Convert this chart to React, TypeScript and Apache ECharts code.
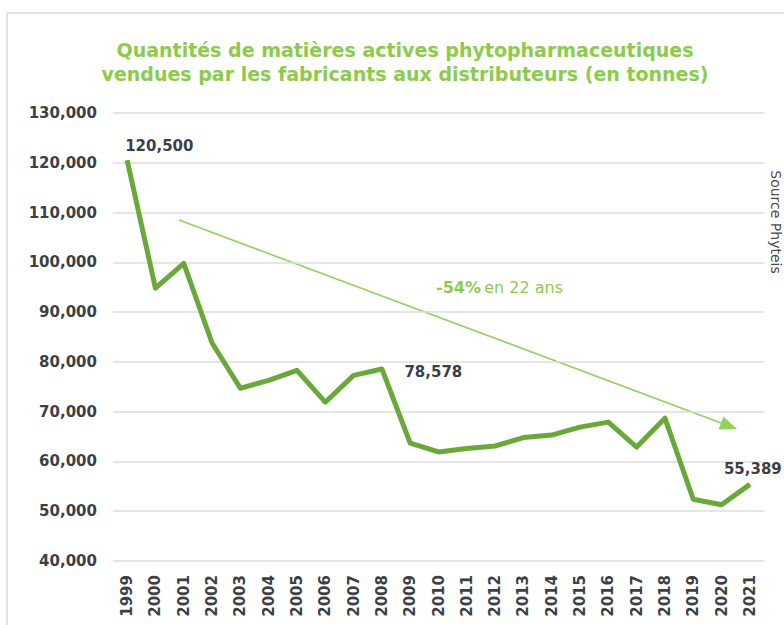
import React, { useEffect, useRef } from "react";
import * as echarts from "echarts";

const years = ["1999","2000","2001","2002","2003","2004","2005","2006","2007","2008","2009","2010","2011","2012","2013","2014","2015","2016","2017","2018","2019","2020","2021"];
const tonnes = [120500, 94800, 99800, 83800, 74700, 76300, 78300, 71900, 77300, 78578, 63700, 61900, 62600, 63100, 64800, 65300, 66900, 67900, 62900, 68700, 52400, 51300, 55389];
const labelledYears = ["1999", "2008", "2021"];
const titleLines = ["Quantités de matières actives phytopharmaceutiques", "vendues par les fabricants aux distributeurs (en tonnes)"];
const yMin = 40000;
const yMax = 130000;
const yStep = 10000;

const FONT = "DejaVu Sans";
const GREEN_TITLE = "#8ccb4c";
const GREEN_LINE = "#68a93a";
const GREEN_ARROW = "#8fd35a";
const TEXT_DARK = "#3c3f46";

const fmt = (v: number) => v.toLocaleString("en-US");

export default function App() {
  const ref = useRef<HTMLDivElement>(null);
  useEffect(() => {
    if (!ref.current) return;
    const chart = echarts.init(ref.current, null, { renderer: "svg" });
    const labelCfg: Record<string, any> = {
      "1999": { position: "top", align: "left", offset: [-2, 0], distance: 6 },
      "2008": { position: "right", distance: 22, offset: [0, 3] },
      "2021": { position: "top", align: "center", offset: [3, 0], distance: 7 },
    };
    const data = tonnes.map((v, i) => {
      const y = years[i];
      if (labelledYears.includes(y)) {
        return {
          value: v,
          label: {
            show: true,
            formatter: (p: any) => fmt(p.value),
            color: TEXT_DARK,
            fontFamily: FONT,
            fontWeight: "bold",
            fontSize: 15,
            ...labelCfg[y],
          },
        };
      }
      return v;
    });
    // arrow geometry
    const ax1 = 179, ay1 = 220, ax2 = 737, ay2 = 429;
    const dx = ax2 - ax1, dy = ay2 - ay1;
    const len = Math.sqrt(dx * dx + dy * dy);
    const ux = dx / len, uy = dy / len;
    const nx = -uy, ny = ux;
    const hl = 17, hw = 7;
    const bx = ax2 - hl * ux, by = ay2 - hl * uy;
    chart.setOption({
      animation: false,
      backgroundColor: "#ffffff",
      title: {
        text: titleLines.join("\n"),
        left: 400,
        textAlign: "center",
        top: 33,
        textStyle: {
          color: GREEN_TITLE,
          fontFamily: FONT,
          fontWeight: "bold",
          fontSize: 19,
          lineHeight: 24,
        },
      },
      grid: { left: 113, right: 20, top: 113, bottom: 64, containLabel: false },
      xAxis: {
        type: "category",
        data: years,
        boundaryGap: true,
        axisLine: { show: false },
        axisTick: { show: false },
        axisLabel: {
          rotate: 90,
          margin: 14,
          color: TEXT_DARK,
          fontFamily: FONT,
          fontWeight: "bold",
          fontSize: 15,
          interval: 0,
        },
      },
      yAxis: {
        type: "value",
        min: yMin,
        max: yMax,
        interval: yStep,
        axisLine: { show: false },
        axisTick: { show: false },
        splitLine: { lineStyle: { color: "#dedede", width: 1.5 } },
        axisLabel: {
          margin: 16,
          color: TEXT_DARK,
          fontFamily: FONT,
          fontWeight: "bold",
          fontSize: 15,
          formatter: (v: number) => fmt(v),
        },
      },
      series: [
        {
          type: "line",
          data,
          symbol: "circle",
          symbolSize: 1,
          showSymbol: true,
          lineStyle: { color: GREEN_LINE, width: 5, join: "round" },
          itemStyle: { color: GREEN_LINE },
        },
      ],
      graphic: [
        { type: "line", shape: { x1: 7, y1: 13, x2: 784, y2: 13 }, style: { stroke: "#e2e2e2", lineWidth: 2 } },
        { type: "line", shape: { x1: 7, y1: 13, x2: 7, y2: 625 }, style: { stroke: "#e2e2e2", lineWidth: 2 } },
        { type: "line", shape: { x1: ax1, y1: ay1, x2: bx, y2: by }, style: { stroke: GREEN_ARROW, lineWidth: 1.6 } },
        {
          type: "polygon",
          shape: { points: [[ax2, ay2], [bx + hw * nx, by + hw * ny], [bx - hw * nx, by - hw * ny]] },
          style: { fill: GREEN_ARROW },
        },
        {
          type: "text",
          x: 436,
          y: 287,
          style: {
            text: "{b|-54%} {n|en 22 ans}",
            verticalAlign: "middle",
            rich: {
              b: { fontFamily: FONT, fontWeight: "bold", fontSize: 16, fill: GREEN_TITLE, color: GREEN_TITLE },
              n: { fontFamily: FONT, fontSize: 16, fill: GREEN_TITLE, color: GREEN_TITLE },
            },
          },
        },
        {
          type: "text",
          x: 776,
          y: 222,
          rotation: -Math.PI / 2,
          style: {
            text: "Source Phyteis",
            align: "center",
            verticalAlign: "middle",
            fontFamily: FONT,
            fontSize: 14,
            fill: "#4a4a4a",
          },
        },
      ],
    });
    return () => chart.dispose();
  }, []);
  return <div ref={ref} style={{ position: "fixed", left: 0, top: 0, width: 784, height: 625, background: "#fff" }} />;
}
